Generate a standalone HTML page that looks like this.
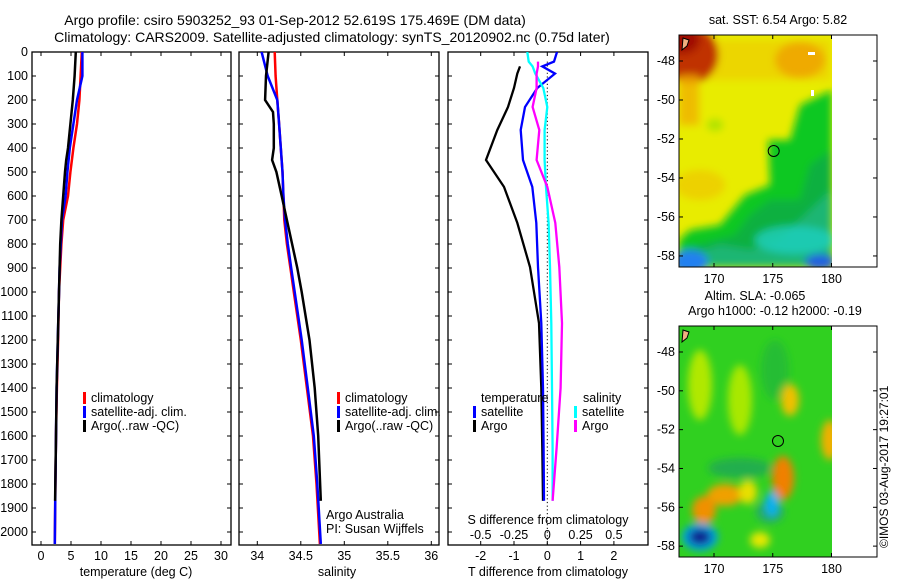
<!DOCTYPE html>
<html><head><meta charset="utf-8">
<style>
html,body{margin:0;padding:0;background:#fff;}
svg{display:block;font-family:"Liberation Sans",sans-serif;}
text{font-size:12.5px;fill:#000;}
</style></head>
<body>
<svg id="fig" width="900" height="580" viewBox="0 0 900 580" xmlns="http://www.w3.org/2000/svg">
<defs>
<filter id="blur4" x="-20%" y="-20%" width="140%" height="140%"><feGaussianBlur stdDeviation="4"/></filter>
<clipPath id="clipMap1"><rect x="679" y="35" width="153" height="232"/></clipPath>
<clipPath id="clipMap2"><rect x="679" y="326" width="153" height="231"/></clipPath>
<clipPath id="clipP1"><rect x="32" y="52" width="199" height="493"/></clipPath>
<clipPath id="clipP2"><rect x="239" y="52" width="200" height="493"/></clipPath>
<clipPath id="clipP3"><rect x="448" y="52" width="200" height="493"/></clipPath>
</defs>
<text x="295" y="25" text-anchor="middle" style="font-size:14px">Argo profile: csiro 5903252_93 01-Sep-2012 52.619S 175.469E (DM data)</text>
<text x="332" y="42" text-anchor="middle" style="font-size:14px">Climatology: CARS2009. Satellite-adjusted climatology: synTS_20120902.nc (0.75d later)</text>

<g id="p1"></g>
<g id="p2"></g>
<g id="p3"></g>

<!-- Map 1: SST -->
<g>
<text x="778" y="24" text-anchor="middle">sat. SST: 6.54 Argo: 5.82</text>
<g clip-path="url(#clipMap1)">
<rect x="679" y="35" width="153" height="232" fill="#e8ec00"/>
<g filter="url(#blur4)">
<rect x="700" y="40" width="130" height="40" fill="#f0c000" opacity="0.5"/>
<ellipse cx="800" cy="60" rx="25" ry="18" fill="#f0a000" opacity="0.8"/>
<ellipse cx="690" cy="55" rx="28" ry="28" fill="#c03000"/>
<ellipse cx="682" cy="40" rx="18" ry="14" fill="#a01000"/>
<rect x="679" y="75" width="20" height="50" fill="#f0b000" opacity="0.8"/>
<ellipse cx="700" cy="185" rx="25" ry="15" fill="#f0c000" opacity="0.6"/>
<ellipse cx="715" cy="125" rx="8" ry="6" fill="#a0e000" opacity="0.8"/>
<polygon points="832,90 800,105 790,140 768,140 770,185 745,195 720,225 690,230 679,240 679,267 832,267" fill="#10c820"/>
<polygon points="832,150 810,165 800,200 770,200 750,215 735,235 679,250 679,267 832,267" fill="#10b040"/>
<polygon points="832,190 800,220 780,240 750,250 720,245 700,252 679,255 679,267 832,267" fill="#20b880" opacity="0.8"/>
<ellipse cx="795" cy="240" rx="40" ry="14" fill="#20d0c0" opacity="0.8"/>
<ellipse cx="690" cy="262" rx="18" ry="12" fill="#2080f0"/>
<ellipse cx="820" cy="262" rx="15" ry="8" fill="#2060e0"/>
</g>
<rect x="808" y="52" width="7" height="3" fill="#fff"/>
<rect x="811" y="90" width="3" height="6" fill="#fff"/>
<path d="M683 38 l6 2 l-2 6 l-5 4z" fill="#f0b080" stroke="#000" stroke-width="1"/>
</g>
<circle cx="773.7" cy="151" r="5.5" fill="none" stroke="#000" stroke-width="1"/>
<rect x="679" y="35" width="198" height="232" fill="none" stroke="#000" stroke-width="1"/>
<g id="m1ticks"></g>
</g>

<!-- Map 2: SLA -->
<g>
<text x="755" y="300" text-anchor="middle">Altim. SLA: -0.065</text>
<text x="775" y="315" text-anchor="middle">Argo h1000: -0.12 h2000: -0.19</text>
<g clip-path="url(#clipMap2)">
<rect x="679" y="326" width="153" height="231" fill="#30d020"/>
<g filter="url(#blur4)">
<ellipse cx="700" cy="385" rx="12" ry="35" fill="#b0e800"/>
<ellipse cx="740" cy="400" rx="12" ry="35" fill="#a8e800"/>
<ellipse cx="775" cy="370" rx="14" ry="30" fill="#20b040" opacity="0.6"/>
<ellipse cx="790" cy="400" rx="9" ry="16" fill="#f0c000"/>
<ellipse cx="830" cy="440" rx="9" ry="20" fill="#f0b000"/>
<ellipse cx="783" cy="478" rx="11" ry="22" fill="#f08000"/>
<ellipse cx="725" cy="495" rx="18" ry="11" fill="#f0a000"/>
<ellipse cx="704" cy="510" rx="12" ry="14" fill="#f09000"/>
<ellipse cx="748" cy="492" rx="9" ry="12" fill="#e8e000"/>
<ellipse cx="760" cy="540" rx="10" ry="8" fill="#e8e800"/>
<ellipse cx="740" cy="468" rx="32" ry="10" fill="#20a060" opacity="0.7"/>
<ellipse cx="770" cy="512" rx="14" ry="11" fill="#20a080" opacity="0.8"/>
<ellipse cx="772" cy="504" rx="7" ry="13" fill="#10b0f0"/>
<ellipse cx="700" cy="537" rx="18" ry="14" fill="#00a0e0"/>
<ellipse cx="700" cy="537" rx="11" ry="8" fill="#102090"/>
</g>
<path d="M683 330 l6 2 l-2 6 l-5 4z" fill="#f0b080" stroke="#000" stroke-width="1"/>
</g>
<circle cx="778" cy="441" r="5.5" fill="none" stroke="#000" stroke-width="1"/>
<rect x="679" y="326" width="198" height="231" fill="none" stroke="#000" stroke-width="1"/>
<g id="m2ticks"></g>
</g>
<text transform="translate(888,548) rotate(-90)" style="font-size:12px">©IMOS 03-Aug-2017 19:27:01</text>
</svg>
<script>
// ---- data ----
const depthTicks = [0,100,200,300,400,500,600,700,800,900,1000,1100,1200,1300,1400,1500,1600,1700,1800,1900,2000];
const tempTicks = [0,5,10,15,20,25,30];
const salTicks = [34,34.5,35,35.5,36];
const tdiffTicks = [-2,-1,0,1,2];
const sdiffTicks = [-0.5,-0.25,0,0.25,0.5];
const sdiffLabels = ["-0.5","-0.25","0","0.25","0.5"];

const climDepth = [0,100,200,300,400,500,600,700,800,900,1000,1200,1400,1600,1800,2050];
const climT = [6.8,6.6,6.4,6.0,5.4,4.9,4.5,3.7,3.4,3.2,3.0,2.85,2.65,2.5,2.4,2.3];
const satT = [6.9,6.9,6.0,5.4,4.8,4.4,4.1,3.5,3.3,3.1,3.0,2.8,2.6,2.5,2.4,2.3];
const climS = [34.2,34.21,34.23,34.25,34.27,34.29,34.30,34.31,34.34,34.38,34.42,34.5,34.57,34.64,34.68,34.72];
const satS = [34.05,34.12,34.23,34.25,34.27,34.29,34.30,34.32,34.35,34.39,34.43,34.51,34.58,34.65,34.69,34.73];

const argoDepth = [0,100,200,250,300,400,450,500,600,700,800,900,1000,1200,1400,1600,1870];
const argoT = [5.8,5.6,5.3,5.1,4.9,4.5,4.2,4.0,3.7,3.4,3.2,3.1,3.0,2.8,2.6,2.5,2.35];
const argoS = [34.13,34.10,34.09,34.18,34.19,34.19,34.17,34.22,34.28,34.34,34.40,34.46,34.51,34.60,34.66,34.70,34.73];

const dDepth = [0,40,60,90,150,229,325,450,562,712,896,1130,1400,1650,1870];
const argoTdiff = [null,null,-0.82,-0.9,-1.0,-1.18,-1.5,-1.84,-1.3,-0.9,-0.52,-0.25,-0.18,-0.15,-0.13];
const satTdiff = [0.29,0.2,-0.15,0.23,-0.3,-0.67,-0.8,-0.73,-0.45,-0.33,-0.28,-0.18,-0.13,-0.11,-0.1];
const satSdiff = [-0.15,-0.14,-0.11,-0.09,-0.03,0,-0.02,-0.02,-0.01,0.01,0.02,0.03,0.035,0.04,0.04];
const argoSdiff = [null,-0.07,-0.07,-0.08,-0.08,-0.11,-0.06,-0.08,0.0,0.06,0.09,0.11,0.1,0.07,0.04];

const lonTicks = [170,175,180];
const latTicks = [-48,-50,-52,-54,-56,-58];

// ---- helpers ----
const NS = "http://www.w3.org/2000/svg";
function mk(tag, attrs, parent){const e=document.createElementNS(NS,tag);for(const k in attrs)e.setAttribute(k,attrs[k]);parent.appendChild(e);return e;}
const yD = d => 52 + d*0.24;
const xT = t => 41 + t*6;
const xS = s => 257.3 + (s-34)*87;
const xTd = t => 547.3 + t*33.3;
const xSd = s => 547.3 + s*133.2;

function line(parent, xs, ds, fx, color, w, name){
  let pts=[];
  for(let i=0;i<xs.length;i++){ if(xs[i]===null) continue; pts.push(fx(xs[i]).toFixed(1)+","+yD(ds[i]).toFixed(1)); }
  const p=mk("polyline",{points:pts.join(" "),fill:"none",stroke:color,"stroke-width":w},parent);
  
  
}
function txt(parent, x, y, s, anchor, name){
  const t=mk("text",{x:x,y:y,"text-anchor":anchor||"start"},parent); t.textContent=s;
  
  
  return t;
}
function frame(parent,x0,x1,name){
  const r=mk("rect",{x:x0,y:52,width:x1-x0,height:493,fill:"none",stroke:"#000","stroke-width":1.3},parent);
  
  
  depthTicks.forEach(d=>{ const y=yD(d); mk("line",{x1:x0,x2:x0+4,y1:y,y2:y,stroke:"#000"},parent); mk("line",{x1:x1,x2:x1-4,y1:y,y2:y,stroke:"#000"},parent);});
}
function legendEntry(parent,x,y,color,label,name){
  mk("rect",{x:x,y:y-10,width:3,height:12,fill:color},parent);
  txt(parent,x+8,y,label,"start",name);
}

// Panel 1
const p1=document.getElementById("p1");
frame(p1,32,231,"temperature-axes-frame");
depthTicks.forEach(d=>txt(p1,28,yD(d)+4,String(d),"end","depth-tick-label"));
tempTicks.forEach(t=>{const x=xT(t);mk("line",{x1:x,x2:x,y1:545,y2:541,stroke:"#000"},p1);mk("line",{x1:x,x2:x,y1:52,y2:56,stroke:"#000"},p1);txt(p1,x,560,String(t),"middle","temperature-tick-label");});
txt(p1,136,576,"temperature (deg C)","middle","temperature-axis-title");
const g1=mk("g",{"clip-path":"url(#clipP1)"},p1);
line(g1,climT,climDepth,xT,"#ff0000",2.5,"temperature-climatology-line");
line(g1,satT,climDepth,xT,"#0000ff",2.5,"temperature-satellite-line");
line(g1,argoT,argoDepth,xT,"#000000",2.5,"temperature-argo-line");
legendEntry(p1,83,402,"#ff0000","climatology","legend-climatology");
legendEntry(p1,83,416,"#0000ff","satellite-adj. clim.","legend-satellite");
legendEntry(p1,83,430,"#000000","Argo(..raw -QC)","legend-argo");

// Panel 2
const p2=document.getElementById("p2");
frame(p2,239,439,"salinity-axes-frame");
salTicks.forEach(s=>{const x=xS(s);mk("line",{x1:x,x2:x,y1:545,y2:541,stroke:"#000"},p2);mk("line",{x1:x,x2:x,y1:52,y2:56,stroke:"#000"},p2);txt(p2,x,560,String(s),"middle","salinity-tick-label");});
txt(p2,337,576,"salinity","middle","salinity-axis-title");
const g2=mk("g",{"clip-path":"url(#clipP2)"},p2);
line(g2,climS,climDepth,xS,"#ff0000",2.5,"salinity-climatology-line");
line(g2,satS,climDepth,xS,"#0000ff",2.5,"salinity-satellite-line");
line(g2,argoS,argoDepth,xS,"#000000",2.5,"salinity-argo-line");
legendEntry(p2,337,402,"#ff0000","climatology","legend-climatology-s");
legendEntry(p2,337,416,"#0000ff","satellite-adj. clim.","legend-satellite-s");
legendEntry(p2,337,430,"#000000","Argo(..raw -QC)","legend-argo-s");
txt(p2,326,519,"Argo Australia","start","credit-argo-australia");
txt(p2,326,533,"PI: Susan Wijffels","start","credit-pi");

// Panel 3
const p3=document.getElementById("p3");
frame(p3,448,648,"difference-axes-frame");
tdiffTicks.forEach(t=>{const x=xTd(t);mk("line",{x1:x,x2:x,y1:545,y2:541,stroke:"#000"},p3);mk("line",{x1:x,x2:x,y1:52,y2:56,stroke:"#000"},p3);txt(p3,x,560,String(t),"middle","tdiff-tick-label");});
txt(p3,548,576,"T difference from climatology","middle","tdiff-axis-title");
sdiffTicks.forEach((s,i)=>txt(p3,xSd(s),539,sdiffLabels[i],"middle","sdiff-tick-label"));
txt(p3,548,524,"S difference from climatology","middle","sdiff-axis-title");
const zl=mk("line",{x1:xTd(0),x2:xTd(0),y1:yD(40),y2:545,stroke:"#000","stroke-dasharray":"1.2,2.5","stroke-width":1},p3);


const g3=mk("g",{"clip-path":"url(#clipP3)"},p3);
line(g3,argoTdiff,dDepth,xTd,"#000000",2.3,"tdiff-argo-line");
line(g3,satTdiff,dDepth,xTd,"#0000ff",2.3,"tdiff-satellite-line");
line(g3,satSdiff,dDepth,xSd,"#00ffff",2.3,"sdiff-satellite-line");
line(g3,argoSdiff,dDepth,xSd,"#ff00ff",2.3,"sdiff-argo-line");
txt(p3,481,402,"temperature","start","legend-temperature-header");
txt(p3,583,402,"salinity","start","legend-salinity-header");
legendEntry(p3,473,416,"#0000ff","satellite","legend-t-satellite");
legendEntry(p3,473,430,"#000000","Argo","legend-t-argo");
legendEntry(p3,574,416,"#00ffff","satellite","legend-s-satellite");
legendEntry(p3,574,430,"#ff00ff","Argo","legend-s-argo");

// Map ticks
function mapTicks(id, top, bottom, lat48){
  const g=document.getElementById(id);
  const xL = lon => 714 + (lon-170)*11.75;
  const yL = lat => lat48 + (-48-lat)*((bottom-top)/11.9);
  lonTicks.forEach(l=>{const x=xL(l);mk("line",{x1:x,x2:x,y1:bottom,y2:bottom-4,stroke:"#000"},g);mk("line",{x1:x,x2:x,y1:top,y2:top+4,stroke:"#000"},g);txt(g,x,bottom+16,String(l),"middle","map-lon-tick-label");});
  latTicks.forEach(l=>{const y=yL(l);mk("line",{x1:679,x2:683,y1:y,y2:y,stroke:"#000"},g);mk("line",{x1:877,x2:873,y1:y,y2:y,stroke:"#000"},g);txt(g,675,y+4,String(l),"end","map-lat-tick-label");});
}
mapTicks("m1ticks",35,267,61);
mapTicks("m2ticks",326,557,352);
</script>
</body></html>
